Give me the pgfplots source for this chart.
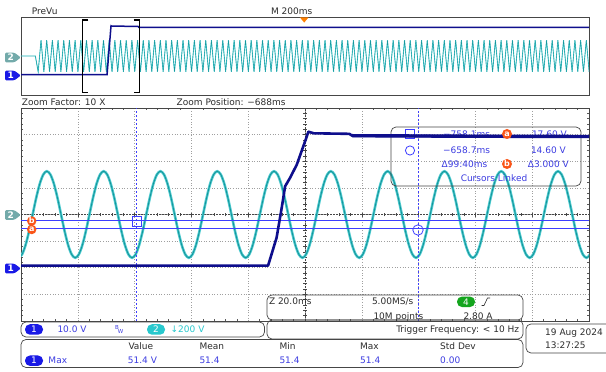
\documentclass[border=0pt]{standalone}
\usepackage{pgfplots}
\usepackage{pgfplotstable}
\pgfplotsset{compat=1.18}
\usepackage{fontspec}
\setmainfont{DejaVu Sans}
\definecolor{chone}{RGB}{14,14,140}
\definecolor{chtwo}{RGB}{22,150,155}
\definecolor{chtwol}{RGB}{80,205,210}
\definecolor{curs}{RGB}{62,62,255}
\definecolor{ctext}{RGB}{60,60,225}
\definecolor{orng}{RGB}{250,85,25}
\definecolor{tagone}{RGB}{25,25,230}
\definecolor{tagtwo}{RGB}{115,170,170}
\definecolor{ovtwo}{RGB}{40,200,205}
\definecolor{grn}{RGB}{20,165,30}
\definecolor{txt}{RGB}{45,45,45}
\definecolor{frame}{RGB}{70,70,70}

% zoom window, channel 2 (V) vs time (ms)
\pgfplotstableread[row sep=\\]{
t v\\
-799.5 -325\\ -798.25 -300.3\\ -797 -229.8\\ -795.75 -124.4\\ -794.5 0\\ -793.25 124.4\\ -792 229.8\\ -790.75 300.3\\ -789.5 325\\ -788.25 300.3\\ -787 229.8\\ -785.75 124.4\\ -784.5 0\\ -783.25 -124.4\\ -782 -229.8\\ -780.75 -300.3\\
-779.5 -325\\ -778.25 -300.3\\ -777 -229.8\\ -775.75 -124.4\\ -774.5 0\\ -773.25 124.4\\ -772 229.8\\ -770.75 300.3\\ -769.5 325\\ -768.25 300.3\\ -767 229.8\\ -765.75 124.4\\ -764.5 0\\ -763.25 -124.4\\ -762 -229.8\\ -760.75 -300.3\\
-759.5 -325\\ -758.25 -300.3\\ -757 -229.8\\ -755.75 -124.4\\ -754.5 0\\ -753.25 124.4\\ -752 229.8\\ -750.75 300.3\\ -749.5 325\\ -748.25 300.3\\ -747 229.8\\ -745.75 124.4\\ -744.5 0\\ -743.25 -124.4\\ -742 -229.8\\ -740.75 -300.3\\
-739.5 -325\\ -738.25 -300.3\\ -737 -229.8\\ -735.75 -124.4\\ -734.5 0\\ -733.25 124.4\\ -732 229.8\\ -730.75 300.3\\ -729.5 325\\ -728.25 300.3\\ -727 229.8\\ -725.75 124.4\\ -724.5 0\\ -723.25 -124.4\\ -722 -229.8\\ -720.75 -300.3\\
-719.5 -325\\ -718.25 -300.3\\ -717 -229.8\\ -715.75 -124.4\\ -714.5 0\\ -713.25 124.4\\ -712 229.8\\ -710.75 300.3\\ -709.5 325\\ -708.25 300.3\\ -707 229.8\\ -705.75 124.4\\ -704.5 0\\ -703.25 -124.4\\ -702 -229.8\\ -700.75 -300.3\\
-699.5 -325\\ -698.25 -300.3\\ -697 -229.8\\ -695.75 -124.4\\ -694.5 0\\ -693.25 124.4\\ -692 229.8\\ -690.75 300.3\\ -689.5 325\\ -688.25 300.3\\ -687 229.8\\ -685.75 124.4\\ -684.5 0\\ -683.25 -124.4\\ -682 -229.8\\ -680.75 -300.3\\
-679.5 -325\\ -678.25 -300.3\\ -677 -229.8\\ -675.75 -124.4\\ -674.5 0\\ -673.25 124.4\\ -672 229.8\\ -670.75 300.3\\ -669.5 325\\ -668.25 300.3\\ -667 229.8\\ -665.75 124.4\\ -664.5 0\\ -663.25 -124.4\\ -662 -229.8\\ -660.75 -300.3\\
-659.5 -325\\ -658.25 -300.3\\ -657 -229.8\\ -655.75 -124.4\\ -654.5 0\\ -653.25 124.4\\ -652 229.8\\ -650.75 300.3\\ -649.5 325\\ -648.25 300.3\\ -647 229.8\\ -645.75 124.4\\ -644.5 0\\ -643.25 -124.4\\ -642 -229.8\\ -640.75 -300.3\\
-639.5 -325\\ -638.25 -300.3\\ -637 -229.8\\ -635.75 -124.4\\ -634.5 0\\ -633.25 124.4\\ -632 229.8\\ -630.75 300.3\\ -629.5 325\\ -628.25 300.3\\ -627 229.8\\ -625.75 124.4\\ -624.5 0\\ -623.25 -124.4\\ -622 -229.8\\ -620.75 -300.3\\
-619.5 -325\\ -618.25 -300.3\\ -617 -229.8\\ -615.75 -124.4\\ -614.5 0\\ -613.25 124.4\\ -612 229.8\\ -610.75 300.3\\ -609.5 325\\ -608.25 300.3\\ -607 229.8\\ -605.75 124.4\\ -604.5 0\\ -603.25 -124.4\\ -602 -229.8\\ -600.75 -300.3\\
-599.5 -325\\ -598.25 -300.3\\ -597 -229.8\\
}\zcht

% overview, channel 2 (V) vs time (ms): extremes of each half cycle
\pgfplotstableread[row sep=\\]{
t v\\
-1000 0\\ -949.5 0\\
-939.5 -325\\ -929.5 325\\ -919.5 -325\\ -909.5 325\\ -899.5 -325\\ -889.5 325\\ -879.5 -325\\ -869.5 325\\ -859.5 -325\\ -849.5 325\\
-839.5 -325\\ -829.5 325\\ -819.5 -325\\ -809.5 325\\ -799.5 -325\\ -789.5 325\\ -779.5 -325\\ -769.5 325\\ -759.5 -325\\ -749.5 325\\
-739.5 -325\\ -729.5 325\\ -719.5 -325\\ -709.5 325\\ -699.5 -325\\ -689.5 325\\ -679.5 -325\\ -669.5 325\\ -659.5 -325\\ -649.5 325\\
-639.5 -325\\ -629.5 325\\ -619.5 -325\\ -609.5 325\\ -599.5 -325\\ -589.5 325\\ -579.5 -325\\ -569.5 325\\ -559.5 -325\\ -549.5 325\\
-539.5 -325\\ -529.5 325\\ -519.5 -325\\ -509.5 325\\ -499.5 -325\\ -489.5 325\\ -479.5 -325\\ -469.5 325\\ -459.5 -325\\ -449.5 325\\
-439.5 -325\\ -429.5 325\\ -419.5 -325\\ -409.5 325\\ -399.5 -325\\ -389.5 325\\ -379.5 -325\\ -369.5 325\\ -359.5 -325\\ -349.5 325\\
-339.5 -325\\ -329.5 325\\ -319.5 -325\\ -309.5 325\\ -299.5 -325\\ -289.5 325\\ -279.5 -325\\ -269.5 325\\ -259.5 -325\\ -249.5 325\\
-239.5 -325\\ -229.5 325\\ -219.5 -325\\ -209.5 325\\ -199.5 -325\\ -189.5 325\\ -179.5 -325\\ -169.5 325\\ -159.5 -325\\ -149.5 325\\
-139.5 -325\\ -129.5 325\\ -119.5 -325\\ -109.5 325\\ -99.5 -325\\ -89.5 325\\ -79.5 -325\\ -69.5 325\\ -59.5 -325\\ -49.5 325\\
-39.5 -325\\ -29.5 325\\ -19.5 -325\\ -9.5 325\\ 0.5 -325\\ 10.5 325\\ 20.5 -325\\ 30.5 325\\ 40.5 -325\\ 50.5 325\\
60.5 -325\\ 70.5 325\\ 80.5 -325\\ 90.5 325\\ 100.5 -325\\ 110.5 325\\ 120.5 -325\\ 130.5 325\\ 140.5 -325\\ 150.5 325\\
160.5 -325\\ 170.5 325\\ 180.5 -325\\ 190.5 325\\ 200.5 -325\\ 210.5 325\\ 220.5 -325\\ 230.5 325\\ 240.5 -325\\ 250.5 325\\
260.5 -325\\ 270.5 325\\ 280.5 -325\\ 290.5 325\\ 300.5 -325\\ 310.5 325\\ 320.5 -325\\ 330.5 325\\ 340.5 -325\\ 350.5 325\\
360.5 -325\\ 370.5 325\\ 380.5 -325\\ 390.5 325\\ 400.5 -325\\ 410.5 325\\ 420.5 -325\\ 430.5 325\\ 440.5 -325\\ 450.5 325\\
460.5 -325\\ 470.5 325\\ 480.5 -325\\ 490.5 325\\ 500.5 -325\\ 510.5 325\\ 520.5 -325\\ 530.5 325\\ 540.5 -325\\ 550.5 325\\
560.5 -325\\ 570.5 325\\ 580.5 -325\\ 590.5 325\\ 600.5 -325\\ 610.5 325\\ 620.5 -325\\ 630.5 325\\ 640.5 -325\\ 650.5 325\\
660.5 -325\\ 670.5 325\\ 680.5 -325\\ 690.5 325\\ 700.5 -325\\ 710.5 325\\ 720.5 -325\\ 730.5 325\\ 740.5 -325\\ 750.5 325\\
760.5 -325\\ 770.5 325\\ 780.5 -325\\ 790.5 325\\ 800.5 -325\\ 810.5 325\\ 820.5 -325\\ 830.5 325\\ 840.5 -325\\ 850.5 325\\
860.5 -325\\ 870.5 325\\ 880.5 -325\\ 890.5 325\\ 900.5 -325\\ 910.5 325\\ 920.5 -325\\ 930.5 325\\ 940.5 -325\\ 950.5 325\\
960.5 -325\\ 970.5 325\\ 980.5 -325\\ 990.5 325\\ 1000.5 -325\\
}\ovcht

\newcommand{\chtag}[3]{%
  \fill[#2, rounded corners=1.2pt] (5,{#1-4.8}) -- (14.5,{#1-4.8}) -- (20.8,#1) -- (14.5,{#1+4.8}) -- (5,{#1+4.8}) -- cycle;
  \node[inner sep=0pt, text=white, font=\fontsize{9}{10}\selectfont\bfseries] at (10.8,#1) {#3};}
\newcommand{\chov}[4]{%
  \node[fill=#3, text=white, rounded corners=5pt, minimum width=18pt, minimum height=10.5pt, inner sep=0pt, font=\fontsize{9}{10}\selectfont] at (#1,#2) {#4};}

\begin{document}
\begin{tikzpicture}[
  px/.style={yshift=372pt, x=1pt, y=-1pt},
  tx/.style={inner sep=0pt, text height=6.5pt, text depth=0pt, text=txt, font=\fontsize{9}{10}\selectfont},
  bx/.style={draw=frame, line width=0.7pt, rounded corners=5pt}]
\fill[white] (0,0) rectangle (606pt,372pt);

% ---- graticule of the zoom window
\begin{axis}[at={(21pt,51pt)}, anchor=south west, width=568pt, height=213pt, scale only axis,
  xmin=0, xmax=10, ymin=0, ymax=8, xtick={0,...,10}, ytick={0,...,8},
  xticklabels={}, yticklabels={}, grid=major,
  major grid style={gray!75, line width=0.55pt, dash pattern=on 0.55pt off 2.1pt},
  major tick length=0pt, minor x tick num=4, minor y tick num=4, minor tick length=2.2pt,
  tick align=inside, tick pos=both, minor tick style={gray!70!black, line width=0.5pt},
  axis line style={frame, line width=0.8pt}]
\end{axis}
\begin{axis}[at={(21pt,51pt)}, anchor=south west, width=568pt, height=213pt, scale only axis,
  axis lines=center, xmin=-5, xmax=5, ymin=-4, ymax=4, xtick={-5,...,5}, ytick={-4,...,4},
  xticklabels={}, yticklabels={}, minor x tick num=4, minor y tick num=4,
  major tick length=4pt, minor tick length=3.5pt, tick align=center,
  major tick style={gray!55!black, line width=0.5pt}, minor tick style={gray!55!black, line width=0.5pt},
  axis line style={-, gray!55!black, line width=0.55pt, dash pattern=on 1.6pt off 1.4pt}]
\end{axis}

% ---- overview (PreVu): channel 2 then channel 1
\begin{axis}[at={(21pt,277pt)}, anchor=south west, width=568pt, height=78pt, scale only axis,
  xmin=-1000, xmax=1000, ymin=-800, ymax=800, xtick=\empty, ytick=\empty,
  axis line style={frame, line width=0.8pt}]
\addplot[chtwol, line width=0.9pt] table[x=t, y=v] {\ovcht};
\addplot[chtwo, line width=0.35pt] table[x=t, y=v] {\ovcht};
\end{axis}
\begin{axis}[at={(21pt,277pt)}, anchor=south west, width=568pt, height=78pt, scale only axis,
  xmin=-1000, xmax=1000, ymin=-20, ymax=60, hide axis]
\addplot[chone, line width=1.5pt] coordinates {(-1000,0.8) (-697,0.8) (-683,51) (-680,50.6) (-588,50.4) (-585,49.4) (1000,49.4)};
\end{axis}

% ---- zoom window, channel 2
\begin{axis}[at={(21pt,51pt)}, anchor=south west, width=568pt, height=213pt, scale only axis,
  xmin=-798.6, xmax=-598.6, ymin=-800, ymax=800, hide axis]
\addplot[chtwol, line width=2.6pt, smooth] table[x=t, y=v] {\zcht};
\addplot[chtwo, line width=0.9pt, smooth] table[x=t, y=v] {\zcht};
\end{axis}

% ---- cursor readout box (under channel 1 trace)
\begin{scope}[px]
\draw[bx] (391,127) rectangle (581,186);
\draw[curs, line width=0.8pt] (405.5,129.5) rectangle (414.5,138.5);
\draw[curs, line width=0.8pt] (410,150.5) circle (4.6);
\node[tx, text=ctext, anchor=west] at (443,134) {−758.1ms};
\node[tx, text=ctext, anchor=east] at (567,134) {17.60 V};
\node[tx, text=ctext, anchor=west] at (443,150.5) {−658.7ms};
\node[tx, text=ctext, anchor=east] at (566,150.5) {14.60 V};
\node[tx, text=ctext, anchor=west] at (441.5,164) {Δ99:40ms};
\node[tx, text=ctext, anchor=east] at (569,164) {Δ3.000 V};
\node[tx, text=ctext, anchor=center] at (494,178.3) {Cursors Linked};
\end{scope}

% ---- zoom window, channel 1 and cursors
\begin{axis}[at={(21pt,51pt)}, anchor=south west, width=568pt, height=213pt, scale only axis,
  xmin=-798.6, xmax=-598.6, ymin=-20, ymax=60, hide axis]
\addplot[curs, line width=0.95pt] coordinates {(-798.6,17.6) (-598.6,17.6)};
\addplot[curs, line width=0.95pt] coordinates {(-798.6,14.6) (-598.6,14.6)};
\addplot[curs, line width=0.8pt, dash pattern=on 2.4pt off 1.6pt] coordinates {(-758.1,-20) (-758.1,60)};
\addplot[curs, line width=0.8pt, dash pattern=on 2.4pt off 1.6pt] coordinates {(-658.7,-20) (-658.7,60)};
\addplot[chone, line width=2.6pt, line join=round] coordinates {(-798.6,0.8) (-760,0.8) (-711.6,0.8) (-708.6,11.3) (-706.8,22.5) (-705.6,30.6) (-703.9,33.7) (-701.5,38.7) (-698.6,47.4) (-697.4,51.1) (-695.5,50.5) (-683,50.3) (-682,49.6) (-640,49.4) (-598.6,49.3)};
\addplot[chone, line width=3.4pt] coordinates {(-682,49.6) (-640,49.4) (-598.6,49.3)};
\end{axis}

\begin{scope}[px]
% cursor markers
\draw[curs, line width=0.8pt] (132,216.5) rectangle (141.5,226.5);
\draw[curs, line width=0.8pt] (418,230) circle (5.2);
% orange cursor labels
\node[circle, fill=orng, text=white, inner sep=0pt, minimum size=9.5pt, font=\fontsize{8}{8}\selectfont\bfseries] at (31.7,221) {b};
\node[circle, fill=orng, text=white, inner sep=0pt, minimum size=9.5pt, font=\fontsize{8}{8}\selectfont\bfseries] at (31.7,229.5) {a};
\node[circle, fill=orng, text=white, inner sep=0pt, minimum size=10pt, font=\fontsize{8}{8}\selectfont\bfseries] at (507,134) {a};
\node[circle, fill=orng, text=white, inner sep=0pt, minimum size=10pt, font=\fontsize{8}{8}\selectfont\bfseries] at (507,164) {b};
% channel tags
\chtag{57.5}{tagtwo}{2}
\chtag{75.5}{tagone}{1}
\chtag{215}{tagtwo}{2}
\chtag{268.5}{tagone}{1}
% zoom bracket and trigger marker in the overview
\draw[black, line width=1.2pt] (88.3,20) -- (82.3,20) -- (82.3,92.3) -- (88.3,92.3);
\draw[black, line width=1.2pt] (133.5,20) -- (139.3,20) -- (139.3,92.3) -- (133.5,92.3);
\fill[orange] (299.8,17.3) -- (308.6,17.3) -- (304.2,22.6) -- cycle;
% titles
\node[tx, anchor=west] at (31.7,10.8) {PreVu};
\node[tx, anchor=east] at (312.5,11.2) {M 200ms};
\node[tx, anchor=west] at (21.7,102.2) {Zoom Factor: 10 X};
\node[tx, anchor=west] at (176.5,102.2) {Zoom Position: −688ms};
% channel box
\draw[bx] (21,322) rectangle (264.5,337);
\chov{34}{329.5}{tagone}{1}
\node[tx, text=ctext, anchor=west] at (57.3,329.5) {10.0 V};
\node[inner sep=0pt, text=ctext, font=\fontsize{5.5}{6}\selectfont] at (117,327.6) {B};
\node[inner sep=0pt, text=ctext, font=\fontsize{5.5}{6}\selectfont] at (120.5,331) {W};
\chov{156}{329.5}{ovtwo}{2}
\node[tx, text=ovtwo, anchor=west] at (170.5,329.5) {↓200 V};
% timebase / trigger box
\draw[bx] (267,295) rectangle (523,320);
\draw[bx] (267,320) rectangle (523,339);
\node[tx, anchor=west] at (268.8,301.3) {Z 20.0ms};
\node[tx, anchor=west] at (371.8,301.3) {5.00MS/s};
\chov{466}{301.8}{grn}{4}
\draw[txt, line width=0.6pt] (481.5,305.5) -- (484,305.5) -- (487.5,298) -- (490,298);
\node[tx, anchor=west] at (373.3,316.5) {10M points};
\node[tx, anchor=west] at (463.3,316.5) {2.80 A};
\node[tx, anchor=east] at (519.3,329.3) {Trigger Frequency: < 10 Hz};
% measurement box
\draw[bx] (21,339.5) rectangle (523,367.5);
\node[tx, anchor=west] at (128.3,346.7) {Value};
\node[tx, anchor=west] at (199.3,346.7) {Mean};
\node[tx, anchor=west] at (279.3,346.7) {Min};
\node[tx, anchor=west] at (360,346.7) {Max};
\node[tx, anchor=west] at (440,346.7) {Std Dev};
\chov{34}{360.7}{tagone}{1}
\node[tx, text=ctext, anchor=west] at (48.3,360.7) {Max};
\node[tx, text=ctext, anchor=west] at (127.7,360.7) {51.4 V};
\node[tx, text=ctext, anchor=west] at (199.3,360.7) {51.4};
\node[tx, text=ctext, anchor=west] at (279.3,360.7) {51.4};
\node[tx, text=ctext, anchor=west] at (360,360.7) {51.4};
\node[tx, text=ctext, anchor=west] at (440,360.7) {0.00};
% date box
\draw[bx] (526,324) rectangle (615,353);
\node[tx, anchor=west] at (545,332.7) {19 Aug 2024};
\node[tx, anchor=west] at (545,345) {13:27:25};
\end{scope}

\pgfresetboundingbox
\path (0,0) rectangle (606pt,372pt);
\end{tikzpicture}
\end{document}
